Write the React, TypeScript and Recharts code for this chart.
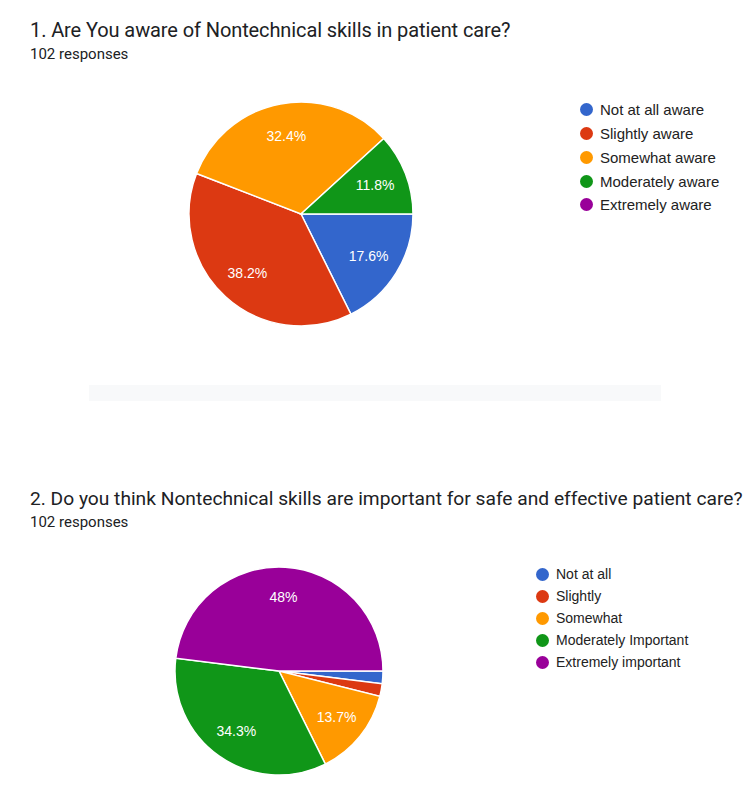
import React from 'react';
import { PieChart, Pie, Cell, Legend } from 'recharts';

// Question 1 - awareness
const awareLabels = ['Not at all aware', 'Slightly aware', 'Somewhat aware', 'Moderately aware', 'Extremely aware'];
const awareCounts = [18, 39, 33, 12, 0];

// Question 2 - importance
const importanceLabels = ['Not at all', 'Slightly', 'Somewhat', 'Moderately Important', 'Extremely important'];
const importanceCounts = [2, 2, 14, 35, 49];

const sliceColors = ['#3366cc', '#dc3912', '#ff9900', '#109618', '#990099'];

const RADIAN = Math.PI / 180;

const formatPct = (p: number) => {
    const s = (p * 100).toFixed(1);
    return (s.endsWith('.0') ? s.slice(0, -2) : s) + '%';
};

// white percentage label inside the slice, google forms style
const renderSliceLabel = (props: any) => {
    const { cx, cy, midAngle, outerRadius, percent } = props;
    if (percent < 0.05) return null;
    const r = outerRadius * 0.71;
    const x = cx + r * Math.cos(-midAngle * RADIAN);
    const y = cy + r * Math.sin(-midAngle * RADIAN);
    return (
        <text
            x={x}
            y={y}
            fill="#ffffff"
            textAnchor="middle"
            dominantBaseline="central"
            fontFamily="'Liberation Sans', Arial, sans-serif"
            fontSize={14}
        >
            {formatPct(percent)}
        </text>
    );
};

interface LegendListProps {
    labels: string[];
    rowHeight: number;
    fontSize: number;
}

const LegendList: React.FC<LegendListProps> = ({ labels, rowHeight, fontSize }) => (
    <div style={{ fontFamily: "'Liberation Sans', Arial, sans-serif", fontSize, color: '#222222' }}>
        {labels.map((label, i) => (
            <div key={label} style={{ display: 'flex', alignItems: 'center', height: rowHeight, whiteSpace: 'nowrap' }}>
                <span
                    style={{
                        display: 'inline-block',
                        width: 13,
                        height: 13,
                        borderRadius: '50%',
                        background: sliceColors[i],
                        marginRight: 7,
                    }}
                />
                {label}
            </div>
        ))}
    </div>
);

const titleStyle: React.CSSProperties = {
    position: 'absolute',
    left: 30,
    fontFamily: 'Roboto, sans-serif',
    lineHeight: '24px',
    color: '#202124',
    whiteSpace: 'nowrap',
};

const subStyle: React.CSSProperties = {
    position: 'absolute',
    left: 30,
    fontFamily: 'Roboto, sans-serif',
    fontSize: 15,
    lineHeight: '18px',
    color: '#202124',
};

const noMargin = { top: 0, right: 0, bottom: 0, left: 0 };

const App: React.FC = () => {
    const awareData = awareLabels.map((name, i) => ({ name, value: awareCounts[i] }));
    const importanceData = importanceLabels.map((name, i) => ({ name, value: importanceCounts[i] }));

    return (
        <div style={{ position: 'absolute', left: 0, top: 0, width: 750, height: 798, background: '#ffffff', overflow: 'hidden' }}>
            <div style={{ ...titleStyle, top: 18, fontSize: 20, letterSpacing: -0.1 }}>
                1. Are You aware of Nontechnical skills in patient care?
            </div>
            <div style={{ ...subStyle, top: 45 }}>102 responses</div>

            <div style={{ position: 'absolute', left: 0, top: 70 }}>
                <PieChart width={750} height={300} margin={noMargin}>
                    <Pie
                        data={awareData}
                        dataKey="value"
                        nameKey="name"
                        cx={301}
                        cy={144}
                        outerRadius={112}
                        startAngle={0}
                        endAngle={-360}
                        stroke="#ffffff"
                        strokeWidth={1.5}
                        label={renderSliceLabel}
                        labelLine={false}
                        isAnimationActive={false}
                    >
                        {awareData.map((d, i) => (
                            <Cell key={d.name} fill={sliceColors[i]} />
                        ))}
                    </Pie>
                    <Legend
                        content={() => <LegendList labels={awareLabels} rowHeight={23.75} fontSize={15} />}
                        wrapperStyle={{ left: 580, top: 28, width: 170 }}
                    />
                </PieChart>
            </div>

            <div style={{ position: 'absolute', left: 89, top: 385, width: 572, height: 16, background: '#f8f9fa' }} />

            <div style={{ ...titleStyle, top: 487, fontSize: 19.2 }}>
                2. Do you think Nontechnical skills are important for safe and effective patient care?
            </div>
            <div style={{ ...subStyle, top: 513 }}>102 responses</div>

            <div style={{ position: 'absolute', left: 0, top: 545 }}>
                <PieChart width={750} height={250} margin={noMargin}>
                    <Pie
                        data={importanceData}
                        dataKey="value"
                        nameKey="name"
                        cx={279}
                        cy={126}
                        outerRadius={104}
                        startAngle={0}
                        endAngle={-360}
                        stroke="#ffffff"
                        strokeWidth={1.5}
                        label={renderSliceLabel}
                        labelLine={false}
                        isAnimationActive={false}
                    >
                        {importanceData.map((d, i) => (
                            <Cell key={d.name} fill={sliceColors[i]} />
                        ))}
                    </Pie>
                    <Legend
                        content={() => <LegendList labels={importanceLabels} rowHeight={22} fontSize={14} />}
                        wrapperStyle={{ left: 536, top: 18, width: 210 }}
                    />
                </PieChart>
            </div>
        </div>
    );
};

export default App;
